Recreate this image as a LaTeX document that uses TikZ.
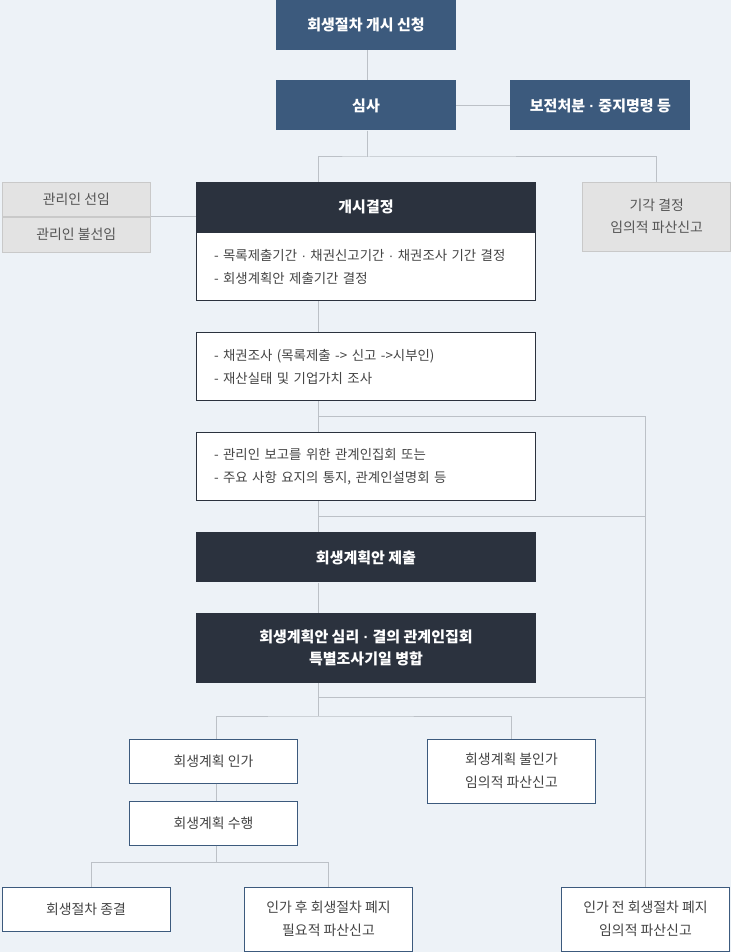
\documentclass[tikz,border=0pt]{standalone}
\usepackage{fontspec}
\setmainfont{Noto Sans CJK KR}
\newfontfamily\dotfont{Liberation Sans}
\newcommand{\mdot}{{\dotfont\ ·\ }}
\usetikzlibrary{positioning, calc}

\definecolor{pagebg}{HTML}{EDF2F7}
\definecolor{stepblue}{HTML}{3C5A7D}
\definecolor{stepdark}{HTML}{2B323E}
\definecolor{linkgray}{HTML}{BCC1C7}
\definecolor{sidegray}{HTML}{E3E3E3}
\definecolor{sideline}{HTML}{C9C9C9}
\definecolor{notetext}{HTML}{444444}
\definecolor{sidetext}{HTML}{555555}

\begin{document}
\begin{tikzpicture}[
        x=1pt, y=-1pt,
        node distance=30pt and 54pt,
        bluebox/.style={rectangle, fill=stepblue, text=white, inner sep=0pt, minimum width=180pt, minimum height=50pt, align=center, font=\fontsize{15}{17}\selectfont\bfseries},
        darkbox/.style={rectangle, fill=stepdark, text=white, inner sep=0pt, minimum width=340pt, minimum height=50pt, align=center, font=\fontsize{15}{22}\selectfont\bfseries},
        notebox/.style={rectangle, fill=white, draw=stepdark, line width=1pt, text=notetext, inner xsep=17.5pt, inner ysep=0pt, text width=304pt, minimum height=68pt, align=left, font=\fontsize{13.4}{23}\selectfont},
        graybox/.style={rectangle, fill=sidegray, draw=sideline, line width=1pt, text=sidetext, inner sep=0pt, minimum width=148pt, align=center, font=\fontsize{13.9}{22}\selectfont},
        outbox/.style={rectangle, fill=white, draw=stepblue, line width=1pt, text=notetext, inner sep=0pt, minimum width=168pt, align=center, font=\fontsize{13.9}{23}\selectfont},
        link/.style={draw=linkgray, line width=1pt}
    ]
        \useasboundingbox[fill=pagebg] (0,0) rectangle (731,952);

        % --- TOP ---
        \node[bluebox] (apply) at (366,25) {회생절차 개시 신청};
        \node[bluebox, below=of apply] (review) {심사};
        \node[bluebox, right=of review] (preserve) {보전처분\mdot 중지명령 등};

        % --- MAIN COLUMN ---
        \node[darkbox] (open) at (366,207) {개시결정};
        \node[notebox, below=0pt of open] (openbody) {- 목록제출기간\mdot 채권신고기간\mdot 채권조사 기간 결정\\- 회생계획안 제출기간 결정};
        \node[notebox, below=31pt of openbody] (survey) {- 채권조사 (목록제출 -> 신고 ->시부인)\\- 재산실태 및 기업가치 조사};
        \node[notebox, below=31pt of survey] (meeting) {- 관리인 보고를 위한 관계인집회 또는\\- 주요 사항 요지의 통지, 관계인설명회 등};
        \node[darkbox, below=31pt of meeting] (submit) {회생계획안 제출};
        \node[darkbox, below=of submit, minimum height=70pt] (hearing) {회생계획안 심리\mdot 결의 관계인집회\\특별조사기일 병합};

        % --- SIDE BOXES ---
        \node[graybox, minimum height=34pt, left=45pt of open.north west, anchor=north east] (mgr) {관리인 선임};
        \node[graybox, minimum height=35pt, below=0pt of mgr] (nomgr) {관리인 불선임};
        \node[graybox, minimum height=69pt, right=46pt of open.north east, anchor=north west] (reject) {기각 결정\\임의적 파산신고};

        % --- RESULTS ---
        \node[outbox, minimum height=44pt] (confirm) at (213.5,761) {회생계획 인가};
        \node[outbox, minimum height=64pt] (deny) at (511.5,771) {회생계획 불인가\\임의적 파산신고};
        \node[outbox, minimum height=44pt, below=17pt of confirm] (perform) {회생계획 수행};
        \node[outbox, minimum height=44pt] (close) at (86,909) {회생절차 종결};
        \node[outbox, minimum height=64pt] (abolish) at (328.5,919) {인가 후 회생절차 폐지\\필요적 파산신고};
        \node[outbox, minimum height=64pt] (abolishpre) at (645.5,919) {인가 전 회생절차 폐지\\임의적 파산신고};

        % --- HELPERS ---
        \coordinate (trunk) at (318,0);
        \coordinate (lane) at (216,0);
        \coordinate (fork1) at (367,157);
        \coordinate (tap1) at (318,416);
        \coordinate (tap2) at (318,516);
        \coordinate (tap3) at (318,697);
        \coordinate (fork2) at (318,716);
        \coordinate (fork3) at (216,862);

        % --- LINKS ---
        \draw[link] (apply.south -| fork1) -- (review.north -| fork1);
        \draw[link] (review) -- (preserve);
        \draw[link] (review.south -| fork1) -- (fork1);
        \draw[link] (open.north -| trunk) |- (fork1) -| (reject.north);
        \draw[link] (mgr.south east) -- (mgr.south east -| open.west);

        % main trunk
        \draw[link] (openbody.south -| trunk) -- (survey.north -| trunk);
        \draw[link] (survey.south -| trunk) -- (meeting.north -| trunk);
        \draw[link] (meeting.south -| trunk) -- (submit.north -| trunk);
        \draw[link] (submit.south -| trunk) -- (hearing.north -| trunk);
        \draw[link] (hearing.south -| trunk) -- (fork2);

        % abolition before confirmation
        \draw[link] (tap1) -| (abolishpre.north);
        \draw[link] (tap2) -- (tap2 -| abolishpre);
        \draw[link] (tap3) -- (tap3 -| abolishpre);

        % plan decision
        \draw[link] (confirm.north -| lane) |- (fork2) -| (deny.north);
        \draw[link] (confirm.south -| lane) -- (perform.north -| lane);
        \draw[link] (perform.south -| lane) -- (fork3);
        \draw[link] ([xshift=5pt]close.north) |- (fork3) -| (abolish.north);

    \end{tikzpicture}
\end{document}
